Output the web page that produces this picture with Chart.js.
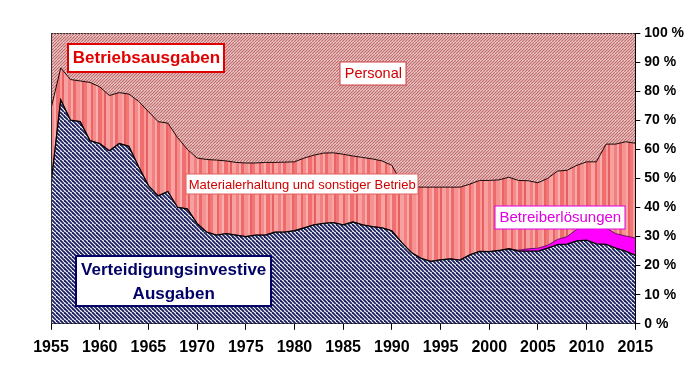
<!DOCTYPE html>
<html>
<head>
<meta charset="utf-8">
<script src="https://cdn.jsdelivr.net/npm/chart.js@4.4.1/dist/chart.umd.min.js"></script>
<style>
html, body { margin: 0; padding: 0; background: #fff; }
</style>
</head>
<body>
<canvas id="chart" width="690" height="387"></canvas>
<script>
// shares of the defence budget, percent
var years = [1955,1956,1957,1958,1959,1960,1961,1962,1963,1964,
             1965,1966,1967,1968,1969,1970,1971,1972,1973,1974,
             1975,1976,1977,1978,1979,1980,1981,1982,1983,1984,
             1985,1986,1987,1988,1989,1990,1991,1992,1993,1994,
             1995,1996,1997,1998,1999,2000,2001,2002,2003,2004,
             2005,2006,2007,2008,2009,2010,2011,2012,2013,2014,2015];

var investive = [48,77,70,69.5,63,62,59.5,62,61,54,
                 47.5,44,45.5,40,39.5,34.5,31.5,30.5,31,30.5,
                 30,30.5,30.5,31.5,31.5,32,33,34,34.5,34.8,
                 34,35,34,33.4,33,32,28,24.5,22.5,21.5,
                 22,22.3,21.9,23.7,24.9,24.8,25.2,25.8,25,25,
                 25,26,27.2,27.4,28.5,28.8,27.5,27.3,26,25,23.5];

var betreiber = [0,0,0,0,0,0,0,0,0,0,
                 0,0,0,0,0,0,0,0,0,0,
                 0,0,0,0,0,0,0,0,0,0,
                 0,0,0,0,0,0,0,0,0,0,
                 0,0,0,0,0,0,0,0,0.3,0.8,
                 1,1,1.8,2.6,4,4.6,5.8,5.7,5,5.2,6];

var material = [26,11,14,14,20,19.5,19,17.5,18,22.5,
                25.5,25.5,23.5,24,20.5,22.5,25,25.8,25,25,
                25.3,24.8,25,24,24.1,23.7,24,24,24.2,24,
                24.3,22.7,23.2,23.3,23,22.5,20.5,22.8,24.5,25.5,
                25,24.7,25.1,24.3,24.4,24.5,24.3,24.6,24,23.4,
                22.5,23,23.5,22.8,22,22.3,22.4,28.8,30.8,32.4,32.6];

var personal = [26,12,16,16.5,17,18.5,21.5,20.5,21,23.5,
                27,30.5,31,36,40,43,43.5,43.7,44,44.5,
                44.7,44.7,44.5,44.5,44.4,44.3,43,42,41.3,41.2,
                41.7,42.3,42.8,43.3,44,45.5,51.5,52.7,53,53,
                53,53,53,52,50.7,50.7,50.5,49.6,50.7,50.8,
                51.5,50,47.5,47.2,45.5,44.3,44.3,38.2,38.2,37.4,37.9];

var FONT = '"Liberation Sans", Arial, sans-serif';

function points(arr) {
	return years.map(function(y, i) { return { x: y, y: arr[i] }; });
}

// diagonal hatch tile; dir 1 = "\" , -1 = "/"
function hatch(bg, fg, lw, size, step, dir) {
	var c = document.createElement("canvas");
	c.width = size; c.height = size;
	var g = c.getContext("2d");
	g.fillStyle = bg;
	g.fillRect(0, 0, size, size);
	g.strokeStyle = fg;
	g.lineWidth = lw;
	for (var k = -size; k <= size * 2; k += step) {
		g.beginPath();
		if (dir > 0) { g.moveTo(k, 0); g.lineTo(k + size, size); }
		else { g.moveTo(k, size); g.lineTo(k + size, 0); }
		g.stroke();
	}
	return g.createPattern(c, "repeat");
}

// vertical stripes in pink/red shades
function stripes() {
	var cols = [["#f27676",3],["#f9a3a3",4],["#ec6464",2],["#f58c8c",3],["#fbaeae",2],
	            ["#f06e6e",4],["#f89a9a",2],["#e95e5e",2],["#f7a0a0",4],["#f28080",3],
	            ["#f9aaaa",2],["#ee6a6a",3],["#f59292",4],["#f8a6a6",2],["#eb6363",2]];
	var w = 0;
	cols.forEach(function(s) { w += s[1]; });
	var c = document.createElement("canvas");
	c.width = w; c.height = 4;
	var g = c.getContext("2d");
	var x = 0;
	cols.forEach(function(s) { g.fillStyle = s[0]; g.fillRect(x, 0, s[1], 4); x += s[1]; });
	return g.createPattern(c, "repeat");
}

var ctx = document.getElementById("chart").getContext("2d");

var boxes = [
	{ lines: ["Betriebsausgaben"], x: 1964.8, y: 91.5, font: "bold 17px " + FONT, color: "#e00000", border: "#e00000", bw: 2, w: 156, h: 28 },
	{ lines: ["Personal"], x: 1988.1, y: 86.2, font: "14.5px " + FONT, color: "#d00000", border: "#d04040", bw: 1, w: 66, h: 23 },
	{ lines: ["Materialerhaltung und sonstiger Betrieb"], x: 1980.8, y: 48.1, font: "13px " + FONT, color: "#d00000", border: "#e06060", bw: 1, w: 232, h: 20 },
	{ lines: ["Betreiberlösungen"], x: 2007.3, y: 36.7, font: "15px " + FONT, color: "#e000e0", border: "#e000e0", bw: 1, w: 130, h: 23 },
	{ lines: ["Verteidigungsinvestive", "Ausgaben"], x: 1967.6, y: 14.7, font: "bold 17px " + FONT, color: "#000066", border: "#000066", bw: 2, w: 195, h: 50 }
];

var overlay = {
	id: "overlay",
	afterDatasetsDraw: function(chart) {
		var c = chart.ctx, a = chart.chartArea;
		var sx = chart.scales.x, sy = chart.scales.y;
		c.save();
		// frame: left solid, top dotted
		c.strokeStyle = "#333";
		c.lineWidth = 1;
		c.beginPath();
		c.moveTo(a.left + 0.5, a.bottom);
		c.lineTo(a.left + 0.5, a.top);
		c.stroke();
		c.setLineDash([2, 1]);
		c.beginPath();
		c.moveTo(a.left, a.top + 0.5);
		c.lineTo(a.right, a.top + 0.5);
		c.stroke();
		c.setLineDash([]);
		// text boxes
		boxes.forEach(function(b) {
			var cx = sx.getPixelForValue(b.x), cy = sy.getPixelForValue(b.y);
			var l = Math.round(cx - b.w / 2), t = Math.round(cy - b.h / 2);
			c.fillStyle = "#fff";
			c.fillRect(l, t, b.w, b.h);
			c.strokeStyle = b.border;
			c.lineWidth = b.bw;
			c.strokeRect(l, t, b.w, b.h);
			c.fillStyle = b.color;
			c.font = b.font;
			c.textAlign = "center";
			c.textBaseline = "middle";
			var lh = 24;
			b.lines.forEach(function(txt, i) {
				c.fillText(txt, cx, cy + (i - (b.lines.length - 1) / 2) * lh + 1);
			});
		});
		c.restore();
	}
};

var chart = new Chart(ctx, {
	type: "line",
	data: {
		datasets: [
			{ label: "Verteidigungsinvestive Ausgaben", data: points(investive), fill: "origin",
			  backgroundColor: hatch("#ffffff", "#1e2262", 1.9, 8, 4, 1), borderColor: "#000", borderWidth: 1.3 },
			{ label: "Betreiberlösungen", data: points(betreiber), fill: "-1",
			  backgroundColor: "#ff00ff", borderColor: "#400040", borderWidth: 0.8 },
			{ label: "Materialerhaltung und sonstiger Betrieb", data: points(material), fill: "-1",
			  backgroundColor: stripes(), borderColor: "#1a0505", borderWidth: 1 },
			{ label: "Personal", data: points(personal), fill: "-1",
			  backgroundColor: hatch("#fbecec", "#c26e6e", 1.4, 6, 3, -1), borderColor: "rgba(0,0,0,0)", borderWidth: 0 }
		]
	},
	options: {
		responsive: false,
		animation: false,
		elements: { point: { radius: 0 }, line: { tension: 0 } },
		layout: { padding: { left: 51, right: 2, top: 33, bottom: 22 } },
		plugins: { legend: { display: false }, tooltip: { enabled: false } },
		scales: {
			x: {
				type: "linear", min: 1955, max: 2015,
				grid: { drawOnChartArea: false, tickLength: 6, color: "#000" },
				border: { color: "#000", width: 1 },
				ticks: { stepSize: 5, color: "#000", padding: 8, font: { family: FONT, size: 16, weight: "bold" },
				         callback: function(v) { return String(v); } }
			},
			y: {
				stacked: true, position: "right", min: 0, max: 100,
				grid: { drawOnChartArea: false, tickLength: 5, color: "#000" },
				border: { color: "#000", width: 1 },
				ticks: { stepSize: 10, color: "#000", padding: 4, font: { family: FONT, size: 14, weight: "bold" },
				         callback: function(v) { return v + " %"; } }
			}
		}
	},
	plugins: [overlay]
});
</script>
</body>
</html>
